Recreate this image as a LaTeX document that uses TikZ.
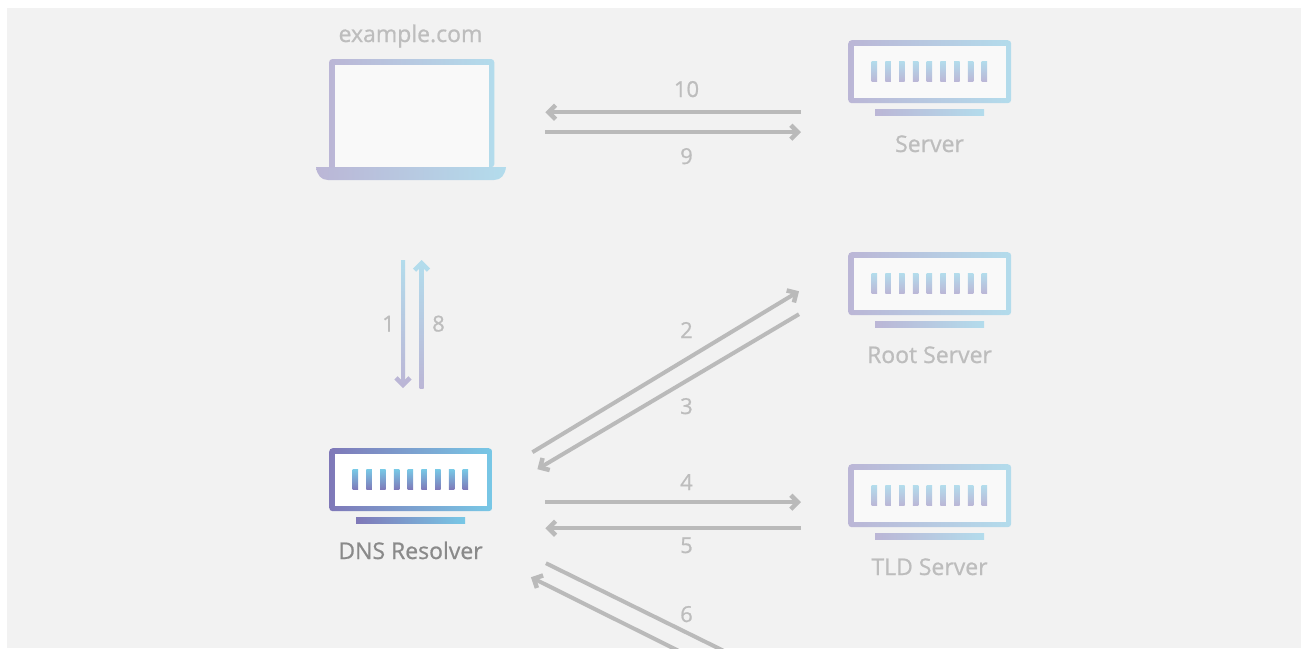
\documentclass[tikz,border=0pt]{standalone}
\usepackage{fontspec}
\setmainfont{Open Sans}[RawFeature={embolden=0.8}]
\usetikzlibrary{arrows.meta,calc}
\definecolor{pagebg}{HTML}{F2F2F2}
\definecolor{fadeL}{HTML}{BBB6D6}
\definecolor{fadeR}{HTML}{B3DCEC}
\definecolor{liveL}{HTML}{7F78B8}
\definecolor{liveR}{HTML}{78C8E6}
\definecolor{screenfade}{HTML}{F9F9F9}
\definecolor{conn}{HTML}{BABABA}
\definecolor{labelfade}{HTML}{BDBDBD}
\definecolor{labellive}{HTML}{8A8A8A}
\tikzset{
  lbl/.style={font=\fontsize{23}{27}\selectfont,text=labelfade,inner sep=0pt,anchor=base},
  num/.style={font=\fontsize{22}{26}\selectfont,text=labelfade,inner sep=0pt,anchor=base},
  conntip/.style={-{Straight Barb[length=7pt,width=14pt,line width=4.5pt]}},
  wire/.style={draw=conn,line width=4pt,conntip},
  iconbox/.style={minimum width=163pt,minimum height=63pt,inner sep=0pt,rounded corners=3.5pt,draw=none},
  standbar/.style={minimum width=109pt,minimum height=5.5pt,inner sep=0pt},
}
% #1 name, #2 x, #3 y top, #4 left colour, #5 right colour, #6 inner colour
\newcommand{\servericon}[6]{%
  \node[iconbox,anchor=north west,shade,shading angle=55,left color=#4,right color=#5] (#1) at (#2,#3) {};
  \fill[#6] ($(#1.north west)+(5.5,5.5)$) rectangle ($(#1.south east)+(-5.5,-5.5)$);
  \foreach \k in {0,...,8}{
    \shade[top color=#5,bottom color=#4] ($(#1.north west)+(23.7+13.75*\k,21.4)$) rectangle ++(5.4,20.4);
  }
  \node[standbar,anchor=north,shade,shading angle=90,left color=#4,right color=#5] (#1stand) at ($(#1.south)+(0,6)$) {};
}
\begin{document}
\begin{tikzpicture}[x=1pt,y=-1pt]
\useasboundingbox (0,0) rectangle (1301,648);
\clip (0,0) rectangle (1301,648);
\fill[white] (0,0) rectangle (1301,648);
\fill[pagebg] (7,8) rectangle (1301,648);

% laptop
\node[minimum width=165pt,minimum height=108pt,inner sep=0pt,anchor=north west] (laptop) at (329,59) {};
\shade[shading angle=80,left color=fadeL,right color=fadeR]
  (316,167) -- (506,167) .. controls (505,175) and (501,180) .. (494,180) -- (328,180) .. controls (321,180) and (317,175) .. (316,167) -- cycle;
\shade[shading angle=60,left color=fadeL,right color=fadeR,rounded corners=3.5pt]
  (laptop.south west) -- (laptop.north west) -- (laptop.north east) -- (laptop.south east) [sharp corners] -- cycle;
\fill[screenfade] ($(laptop.north west)+(5.5,5.5)$) rectangle ($(laptop.south east)+(-5.5,0)$);
\node[lbl] (laptoplabel) at (410.5,42) {example.com};

% servers
\servericon{server}{848}{40}{fadeL}{fadeR}{screenfade}
\servericon{root}{848}{252}{fadeL}{fadeR}{screenfade}
\servericon{tld}{848}{464}{fadeL}{fadeR}{screenfade}
\servericon{dns}{329}{448}{liveL}{liveR}{white}
\node[lbl] (serverlabel) at (929.5,152) {Server};
\node[lbl] (rootlabel) at (929.5,363) {Root Server};
\node[lbl] (tldlabel) at (929.5,575) {TLD Server};
\node[lbl,text=labellive] (dnslabel) at (410.5,559) {DNS Resolver};

% laptop <-> server
\coordinate (a10s) at ($(server.west)+(-47,40.5)$);
\coordinate (a10e) at ($(laptop.east)+(51,-1)$);
\coordinate (a9s) at ($(laptop.east)+(51,19)$);
\coordinate (a9e) at ($(server.west)+(-47,60.5)$);
\draw[wire] (a10s) -- (a10e);
\draw[wire] (a9s) -- (a9e);
\node[num] (n10) at (686.5,97) {10};
\node[num] (n9) at (686.5,164) {9};

% laptop <-> dns (gradient shafts)
\coordinate (a1s) at (403,260);
\coordinate (a1e) at (403,388);
\coordinate (a8s) at (421.5,388);
\coordinate (a8e) at (421.5,260);
\draw[line width=4pt,conntip,draw=fadeL] (a1s) -- (a1e);
\draw[line width=4pt,conntip,draw=fadeR] (a8s) -- (a8e);
\shade[top color=fadeR,bottom color=fadeL] ($(a1s)+(-2,0)$) rectangle ($(a1e)+(2,-4)$);
\shade[top color=fadeR,bottom color=fadeL] ($(a8e)+(-2,4)$) rectangle ($(a8s)+(2,0)$);
\node[num] (n1) at (388.5,331.5) {1};
\node[num] (n8) at (438.5,331.5) {8};

% dns <-> root
\coordinate (a2s) at ($(dns.east)+(40,-27.5)$);
\coordinate (a2e) at ($(root.west)+(-49,7.5)$);
\coordinate (a3s) at ($(root.west)+(-49,30.5)$);
\coordinate (a3e) at ($(dns.east)+(45,-10.5)$);
\draw[wire] (a2s) -- (a2e);
\draw[wire] (a3s) -- (a3e);
\node[num] (n2) at (686.5,338) {2};
\node[num] (n3) at (686.5,414) {3};

% dns <-> tld
\coordinate (a4s) at ($(dns.east)+(53,22.5)$);
\coordinate (a4e) at ($(tld.west)+(-47,6.5)$);
\coordinate (a5s) at ($(tld.west)+(-47,32.5)$);
\coordinate (a5e) at ($(dns.east)+(53,48.5)$);
\draw[wire] (a4s) -- (a4e);
\draw[wire] (a5s) -- (a5e);
\node[num] (n4) at (686.5,490) {4};
\node[num] (n5) at (686.5,553) {5};

% dns <-> off-page server
\coordinate (a6s) at ($(dns.east)+(53.5,83.5)$);
\coordinate (a6e) at (758.5,668);
\coordinate (a7s) at (713,668);
\coordinate (a7e) at ($(dns.east)+(38.5,97.5)$);
\draw[line width=4pt,draw=conn] (a6s) -- (a6e);
\draw[wire] (a7s) -- (a7e);
\node[num] (n6) at (686.5,622) {6};
\end{tikzpicture}
\end{document}
